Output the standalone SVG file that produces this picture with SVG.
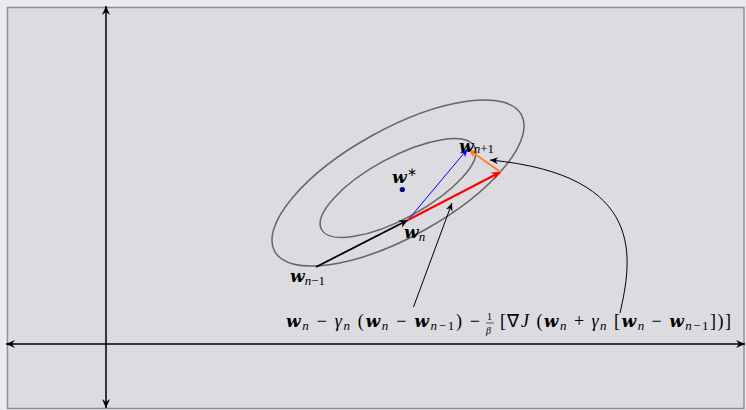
<svg xmlns="http://www.w3.org/2000/svg" width="746" height="410" viewBox="0 0 746 410">
<style>
.bg{fill:#e9e9f1}
.frame{fill:#dcdbe0;stroke:#8e8e96;stroke-width:1.5}
.ell{fill:none;stroke:#666;stroke-width:1.5}
.ax{fill:none;stroke:#000;stroke-width:1.5}
.thin{fill:none;stroke:#000;stroke-width:1}
text{font-family:"Liberation Serif","Times New Roman",serif;fill:#000}
.w{font-family:"DejaVu Serif",serif;font-weight:bold;font-style:italic;font-size:17px}
.sub{font-style:italic;font-size:13px}
.su{font-style:normal;font-size:13px}
.m{font-size:18px}
.mi{font-style:italic;font-size:18px}
</style>
<defs>
<marker id="ak" viewBox="-10 -5 12 10" refX="0" refY="0" markerWidth="12" markerHeight="10" orient="auto-start-reverse" markerUnits="userSpaceOnUse"><path d="M0,0 L-9,-4 L-6,0 L-9,4 Z" fill="#000"/></marker>
<marker id="ar" viewBox="-10 -5 12 10" refX="0" refY="0" markerWidth="12" markerHeight="10" orient="auto" markerUnits="userSpaceOnUse"><path d="M0,0 L-9,-4 L-6,0 L-9,4 Z" fill="#ff0000"/></marker>
<marker id="ab" viewBox="-10 -5 12 10" refX="0" refY="0" markerWidth="12" markerHeight="10" orient="auto" markerUnits="userSpaceOnUse"><path d="M0,0 L-8,-3.5 L-5.5,0 L-8,3.5 Z" fill="#0000ff"/></marker>
<marker id="ao" viewBox="-10 -5 12 10" refX="0" refY="0" markerWidth="12" markerHeight="10" orient="auto" markerUnits="userSpaceOnUse"><path d="M0,0 L-9,-4 L-6,0 L-9,4 Z" fill="#ff8020"/></marker>
<marker id="at" viewBox="-10 -5 12 10" refX="0" refY="0" markerWidth="12" markerHeight="10" orient="auto" markerUnits="userSpaceOnUse"><path d="M0,0 L-8,-3.5 L-5.5,0 L-8,3.5 Z" fill="#000"/></marker>
</defs>
<rect class="bg" x="0" y="0" width="746" height="410"/>
<rect class="frame" x="7.5" y="7.5" width="736.5" height="401"/>
<g id="axes">
<line class="ax" x1="106" y1="6" x2="106" y2="408" marker-start="url(#ak)" marker-end="url(#ak)"/>
<line class="ax" x1="6" y1="344" x2="745" y2="344" marker-start="url(#ak)" marker-end="url(#ak)"/>
</g>
<g id="contours">
<ellipse class="ell" cx="398" cy="183" rx="141" ry="54" transform="rotate(-29 398 183)"/>
<ellipse class="ell" cx="398" cy="188" rx="87" ry="30.5" transform="rotate(-28.5 398 188)"/>
</g>
<g id="wstar">
<circle cx="402.3" cy="189.5" r="2.6" fill="#00008b"/>
<text x="392" y="183"><tspan class="w">w</tspan><tspan font-size="12px" dy="-7">∗</tspan></text>
</g>
<g id="connectors">
<line x1="316" y1="267" x2="408" y2="220" stroke="#000" stroke-width="1.8" marker-end="url(#ak)"/>
<line x1="408" y1="220" x2="467.5" y2="149" stroke="#0000ff" stroke-width="1" marker-end="url(#ab)"/>
<line x1="408" y1="220" x2="500.5" y2="172" stroke="#ff0000" stroke-width="2" marker-end="url(#ar)"/>
<line x1="500.5" y1="172" x2="468.5" y2="149.5" stroke="#ff8020" stroke-width="1.8" marker-end="url(#ao)"/>
<line class="thin" x1="413.5" y1="307" x2="452" y2="203" marker-end="url(#at)"/>
<path class="thin" d="M620,313 C632,260 648,175 490,160" marker-end="url(#at)"/>
</g>
<g id="wn">
<text x="404" y="238"><tspan class="w">w</tspan><tspan class="sub" dy="3">n</tspan></text>
</g>
<g id="wn1">
<text x="290" y="282"><tspan class="w">w</tspan><tspan class="sub" dy="3">n</tspan><tspan class="su">−1</tspan></text>
</g>
<g id="wnp1">
<text x="459" y="152"><tspan class="w">w</tspan><tspan class="sub" dy="1" font-size="14px">n</tspan><tspan class="su" font-size="14px">+1</tspan></text>
</g>
<g id="formula">
<text x="286" y="327" textLength="194" lengthAdjust="spacing"><tspan class="w">w</tspan><tspan class="sub" dy="3">n</tspan><tspan class="m" dy="-3"> − </tspan><tspan class="mi">γ</tspan><tspan class="sub" dy="3">n</tspan><tspan class="m" dy="-3"> (</tspan><tspan class="w">w</tspan><tspan class="sub" dy="3">n</tspan><tspan class="m" dy="-3"> − </tspan><tspan class="w">w</tspan><tspan class="sub" dy="3">n</tspan><tspan class="su">−1</tspan><tspan class="m" dy="-3">) −</tspan></text>
<text x="487" y="320" font-size="10px">1</text>
<text x="486" y="334" font-size="10px" font-style="italic">β</text>
<line x1="486" y1="323" x2="494" y2="323" stroke="#000" stroke-width="0.6"/>
<text x="500" y="327" textLength="231" lengthAdjust="spacing"><tspan class="m">[∇</tspan><tspan class="mi">J</tspan><tspan class="m"> (</tspan><tspan class="w">w</tspan><tspan class="sub" dy="3">n</tspan><tspan class="m" dy="-3"> + </tspan><tspan class="mi">γ</tspan><tspan class="sub" dy="3">n</tspan><tspan class="m" dy="-3"> [</tspan><tspan class="w">w</tspan><tspan class="sub" dy="3">n</tspan><tspan class="m" dy="-3"> − </tspan><tspan class="w">w</tspan><tspan class="sub" dy="3">n</tspan><tspan class="su">−1</tspan><tspan class="m" dy="-3">])]</tspan></text>
</g>
</svg>
